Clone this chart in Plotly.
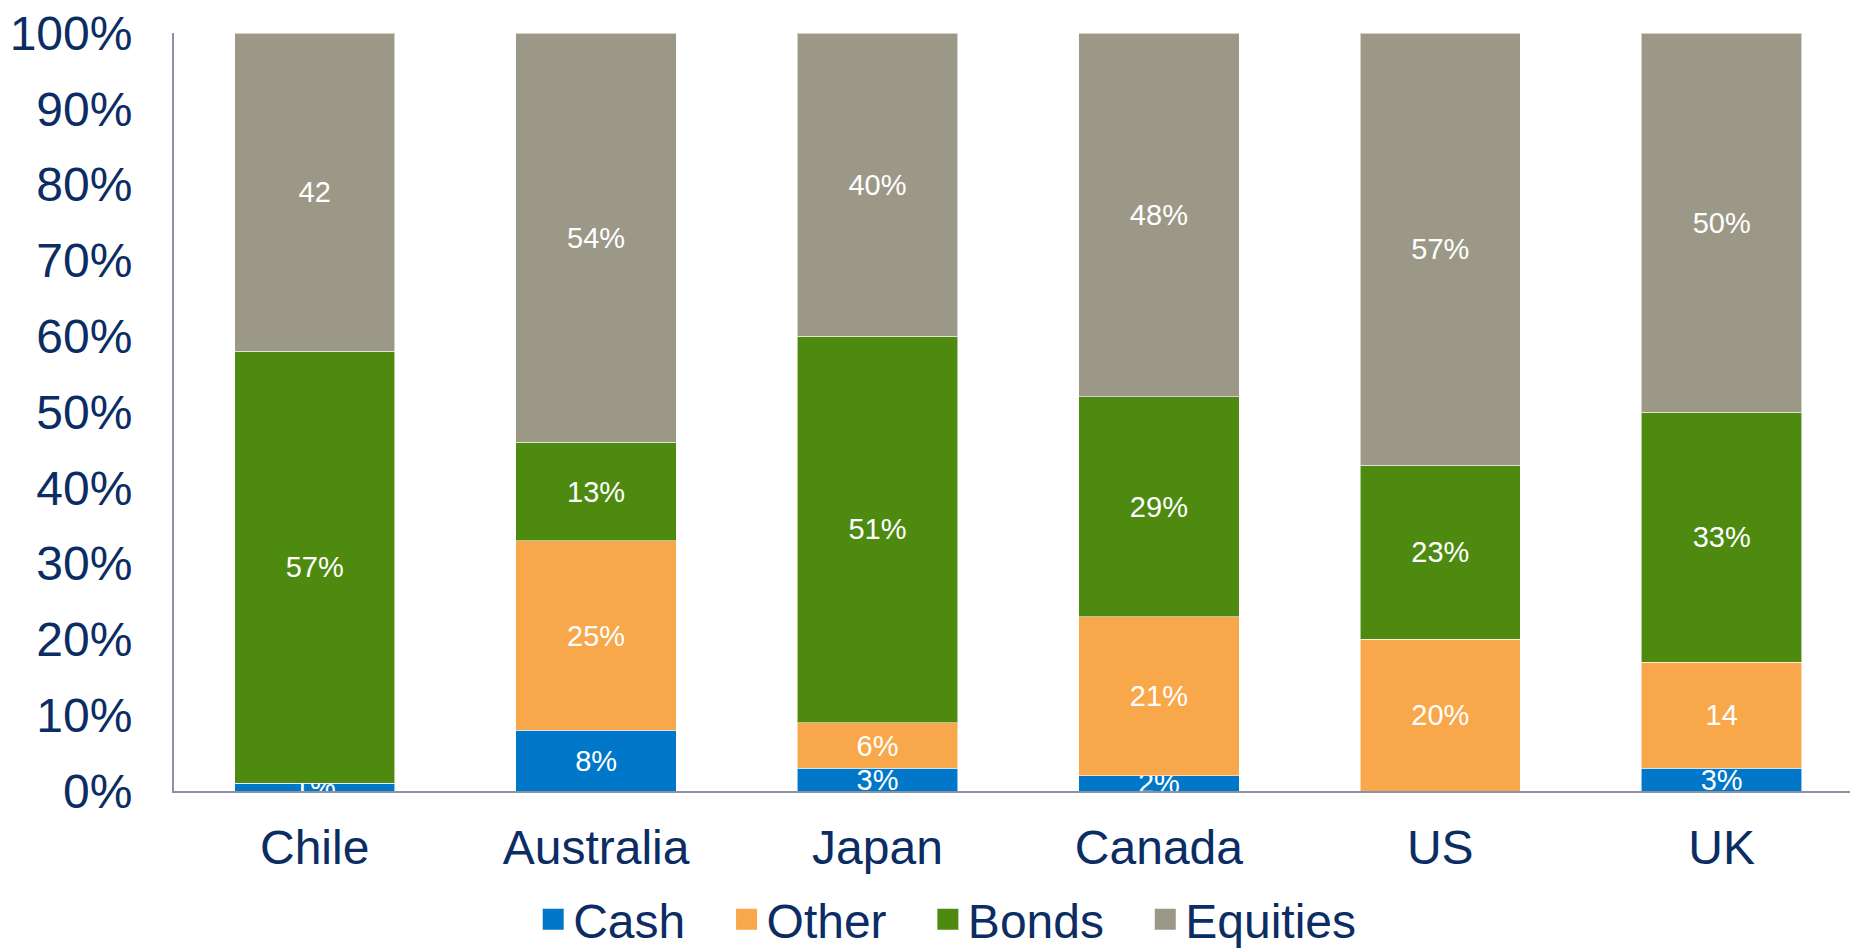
import plotly.graph_objects as go

countries = ["Chile", "Australia", "Japan", "Canada", "US", "UK"]
cash = [1, 8, 3, 2, 0, 3]
other = [0, 25, 6, 21, 20, 14]
bonds = [57, 13, 51, 29, 23, 33]
equities = [42, 54, 40, 48, 57, 50]

cash_labels = ["1%", "8%", "3%", "2%", "", "3%"]
other_labels = ["", "25%", "6%", "21%", "20%", "14"]
bonds_labels = ["57%", "13%", "51%", "29%", "23%", "33%"]
equities_labels = ["42", "54%", "40%", "48%", "57%", "50%"]

y_ticks = list(range(0, 101, 10))

series = [
    ("Cash", cash, cash_labels, "#0077C8"),
    ("Other", other, other_labels, "#F9A74B"),
    ("Bonds", bonds, bonds_labels, "#4E8A10"),
    ("Equities", equities, equities_labels, "#9C9887"),
]

FONT = "Liberation Sans, Arial, sans-serif"
NAVY = "#0B2D64"
AXIS = "#8C90A4"
PAD = "\u00a0\u00a0\u2009"

fig = go.Figure()
for name, vals, labels, color in series:
    fig.add_trace(go.Bar(
        x=countries, y=vals, name=name, showlegend=False, legendgroup=name,
        marker=dict(color=color, line=dict(color="rgba(255,255,255,0.55)", width=1)),
        text=labels, textposition="inside", insidetextanchor="middle",
        textangle=0, constraintext="none",
        textfont=dict(family=FONT, size=29, color="white"),
        cliponaxis=True,
    ))
# legend entries (square swatches)
for i, (name, vals, labels, color) in enumerate(series):
    fig.add_trace(go.Scatter(
        x=[None], y=[None], mode="markers",
        name=name + (PAD if i < len(series) - 1 else ""), legendgroup=name,
        marker=dict(symbol="square", size=16, color=color, line=dict(color=color, width=5)),
        showlegend=True, hoverinfo="skip",
    ))

fig.update_layout(
    barmode="stack",
    bargap=0.43,
    width=1850, height=948,
    margin=dict(l=174, r=0, t=33, b=157),
    paper_bgcolor="white", plot_bgcolor="white",
    font=dict(family=FONT, color=NAVY, size=48),
    showlegend=True,
    legend=dict(
        orientation="h", xref="container", yref="container",
        x=0.512, xanchor="center", y=0.03, yanchor="middle",
        font=dict(family=FONT, size=48, color=NAVY),
        traceorder="normal", itemwidth=30,
    ),
)
fig.update_xaxes(
    range=[-0.5, 5.456], showline=True, linecolor=AXIS, linewidth=2,
    ticks="", showgrid=False, zeroline=False,
    tickfont=dict(family=FONT, size=48, color=NAVY),
    ticklabelstandoff=13,
)
fig.update_yaxes(
    range=[0, 100], tickvals=y_ticks, ticktext=[f"{v}%" for v in y_ticks],
    showline=True, linecolor=AXIS, linewidth=2,
    ticks="", showgrid=False, zeroline=False,
    tickfont=dict(family=FONT, size=48, color=NAVY),
    ticklabelstandoff=30,
)

fig.write_html("out.html")
